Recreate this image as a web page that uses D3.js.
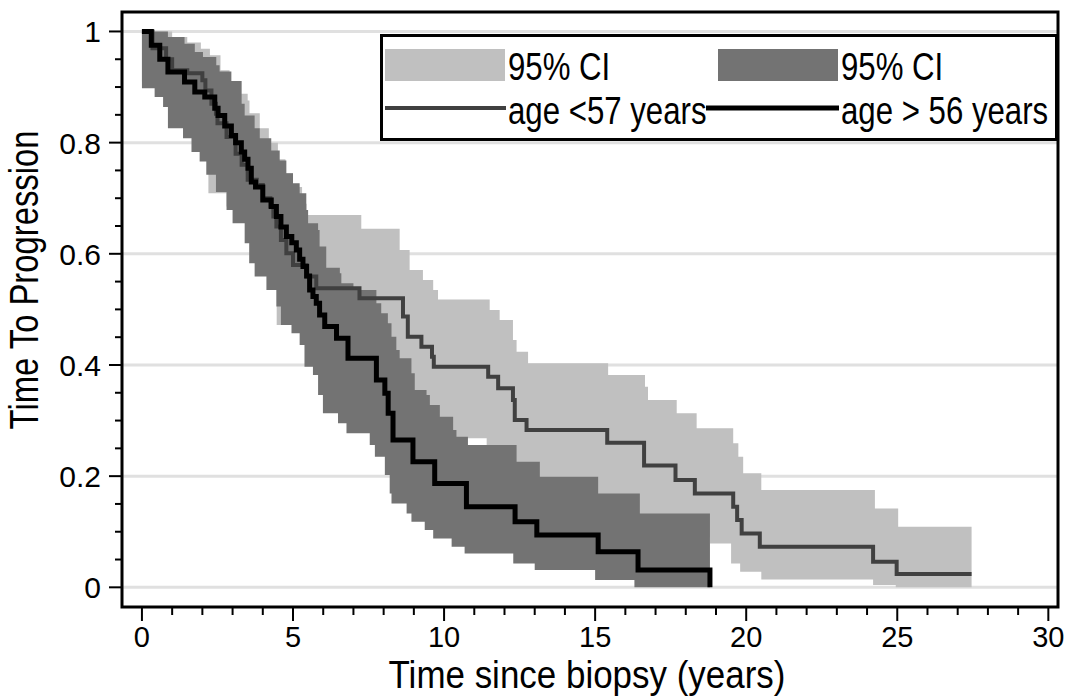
<!DOCTYPE html>
<html>
<head>
<meta charset="utf-8">
<script src="https://cdn.jsdelivr.net/npm/d3@7"></script>
<style>
  body {margin: 0; background: #fff;}
  svg {display: block; font-family: 'Liberation Sans', Arial, sans-serif;}
</style>
</head>
<body>
<svg id="chart" width="1071" height="696"></svg>
<script>
// step data: [time (years), value], value holds until the next time
const youngLine = [
  [0, 1], [0.35, 0.97], [0.8, 0.95], [1.0, 0.93], [1.5, 0.925], [2.0, 0.912], [2.1, 0.894],
  [2.3, 0.87], [2.45, 0.852], [2.5, 0.835], [2.8, 0.81], [3.1, 0.78], [3.3, 0.76], [3.5, 0.733],
  [3.8, 0.724], [4.0, 0.7], [4.25, 0.685], [4.35, 0.667], [4.45, 0.649], [4.6, 0.625],
  [4.78, 0.601], [5.0, 0.58], [5.45, 0.559], [5.77, 0.538], [7.2, 0.52], [8.64, 0.487],
  [8.8, 0.451], [9.25, 0.433], [9.6, 0.415], [9.66, 0.397], [11.46, 0.379], [11.79, 0.358],
  [12.28, 0.337], [12.34, 0.301], [12.73, 0.283], [15.4, 0.26], [16.62, 0.219], [17.66, 0.193],
  [18.3, 0.169], [19.57, 0.145], [19.7, 0.121], [19.85, 0.097], [20.45, 0.073], [24.2, 0.046],
  [24.98, 0.024], [27.46, 0.024],
];
const oldLine = [
  [0, 1], [0.31, 0.975], [0.59, 0.95], [0.86, 0.927], [1.41, 0.909], [1.75, 0.891], [2.08, 0.882],
  [2.41, 0.862], [2.52, 0.849], [2.74, 0.83], [2.96, 0.813], [3.1, 0.8], [3.29, 0.783], [3.4, 0.77],
  [3.51, 0.754], [3.62, 0.729], [3.76, 0.72], [4.0, 0.697], [4.28, 0.685], [4.45, 0.667],
  [4.6, 0.648], [4.78, 0.631], [4.96, 0.62], [5.11, 0.607], [5.22, 0.59], [5.33, 0.577],
  [5.45, 0.56], [5.55, 0.535], [5.66, 0.523], [5.77, 0.511], [5.88, 0.49], [6.05, 0.469],
  [6.44, 0.448], [6.82, 0.412], [7.76, 0.373], [8.04, 0.349], [8.15, 0.313], [8.31, 0.265],
  [8.97, 0.226], [9.69, 0.187], [10.74, 0.145], [12.35, 0.118], [13.07, 0.094], [15.1, 0.064],
  [16.42, 0.031], [18.8, 0],
];
const youngUpper = [
  [0, 1], [1.0, 0.99], [1.5, 0.98], [1.95, 0.969], [2.25, 0.957], [2.6, 0.93], [2.9, 0.91],
  [3.23, 0.888], [3.5, 0.876], [3.56, 0.853], [3.9, 0.826], [4.2, 0.8], [4.5, 0.77], [4.75, 0.745],
  [5.0, 0.72], [5.3, 0.69], [5.45, 0.67], [7.26, 0.645], [8.53, 0.607], [8.86, 0.571],
  [9.3, 0.553], [9.64, 0.535], [9.8, 0.518], [11.51, 0.499], [11.84, 0.481], [12.28, 0.445],
  [12.4, 0.424], [12.78, 0.403], [15.43, 0.382], [16.65, 0.361], [16.75, 0.337], [17.7, 0.313],
  [18.36, 0.286], [19.57, 0.259], [19.74, 0.235], [19.9, 0.205], [20.5, 0.175], [24.26, 0.142],
  [25.03, 0.109], [27.46, 0.109],
];
const youngLower = [
  [0, 0.91], [0.45, 0.895], [0.75, 0.875], [0.9, 0.84], [1.4, 0.815], [1.7, 0.79], [2.0, 0.77],
  [2.2, 0.709], [2.8, 0.685], [3.05, 0.66], [3.45, 0.625], [3.6, 0.59], [3.8, 0.565], [4.15, 0.54],
  [4.46, 0.472], [4.8, 0.48], [5.0, 0.46], [5.4, 0.44], [5.9, 0.42], [6.5, 0.4], [7.2, 0.37],
  [7.8, 0.34], [8.3, 0.32], [8.8, 0.3], [9.7, 0.268], [11.41, 0.24], [12.3, 0.2], [12.8, 0.17],
  [14, 0.14], [15.4, 0.12], [16.6, 0.1], [17.7, 0.09], [18.8, 0.079], [19.5, 0.043],
  [19.8, 0.028], [20.5, 0.014], [24.2, 0.004], [24.95, 0], [27.46, 0],
];
const oldUpper = [
  [0, 1], [0.86, 0.99], [1.41, 0.978], [1.75, 0.963], [2.02, 0.954], [2.46, 0.939], [2.57, 0.928],
  [2.96, 0.911], [3.3, 0.87], [3.4, 0.849], [3.73, 0.826], [3.9, 0.808], [4.28, 0.786],
  [4.56, 0.768], [4.78, 0.745], [5.0, 0.727], [5.22, 0.709], [5.44, 0.679], [5.5, 0.655],
  [5.83, 0.643], [5.88, 0.613], [6.1, 0.575], [6.55, 0.565], [6.6, 0.547], [7.0, 0.535],
  [7.76, 0.511], [7.92, 0.493], [8.14, 0.475], [8.26, 0.451], [8.42, 0.427], [8.53, 0.412],
  [8.92, 0.385], [9.03, 0.355], [9.42, 0.346], [9.53, 0.328], [9.86, 0.307], [10.3, 0.283],
  [10.41, 0.271], [10.79, 0.256], [12.4, 0.226], [13.17, 0.199], [15.1, 0.169], [16.48, 0.133],
  [18.8, 0.133],
];
const oldLower = [
  [0, 0.898], [0.42, 0.882], [0.7, 0.864], [0.86, 0.826], [1.36, 0.808], [1.64, 0.783],
  [1.91, 0.766], [2.13, 0.742], [2.45, 0.711], [2.8, 0.679], [3.0, 0.655], [3.4, 0.619],
  [3.55, 0.583], [3.73, 0.559], [4.12, 0.535], [4.45, 0.505], [4.6, 0.472], [4.95, 0.457],
  [5.22, 0.436], [5.38, 0.397], [5.66, 0.382], [5.83, 0.346], [5.99, 0.313], [6.49, 0.295],
  [6.77, 0.277], [7.54, 0.256], [7.71, 0.235], [8.04, 0.202], [8.2, 0.169], [8.26, 0.151],
  [8.76, 0.133], [8.92, 0.118], [9.36, 0.103], [9.64, 0.088], [10.25, 0.073], [10.68, 0.061],
  [12.29, 0.043], [13.0, 0.031], [15.0, 0.013], [16.3, 0], [18.8, 0],
];

const xTicks = [0, 5, 10, 15, 20, 25, 30];
const yTicks = [0, 0.2, 0.4, 0.6, 0.8, 1];
const legendItems = [
  {label: '95% CI', kind: 'band', color: '#c0c0c0'},
  {label: '95% CI', kind: 'band', color: '#737373'},
  {label: 'age <57 years', kind: 'line', color: '#404040', width: 4},
  {label: 'age > 56 years', kind: 'line', color: '#000', width: 5},
];

const svg = d3.select('#chart');
const plotL = 122; const plotR = 1058; const plotT = 12; const plotB = 607;

const x = d3.scaleLinear().domain([-0.66, 30.32]).range([plotL, plotR]);
const y = d3.scaleLinear().domain([-0.0354, 1.035]).range([plotB, plotT]);

// value of a step series at time t
const stepAt = (series, t)=>{
  let v = series[0][1];
  series.forEach((p)=>{
    if (p[0] <= t) v = p[1];
  });
  return v;
};

const bandData = (upper, lower)=>{
  const times = Array.from(new Set(upper.map((p)=>p[0]).concat(lower.map((p)=>p[0])))).sort((a, b)=>a-b);
  return times.map((t)=>({t: t, hi: stepAt(upper, t), lo: stepAt(lower, t)}));
};

// gridlines
svg.append('g').selectAll('line')
    .data(yTicks).enter().append('line')
    .attr('x1', plotL).attr('x2', plotR)
    .attr('y1', (d)=>y(d)).attr('y2', (d)=>y(d))
    .style('stroke', '#e0e0e0').style('stroke-width', 3);

const area = d3.area()
    .curve(d3.curveStepAfter)
    .x((d)=>x(d.t))
    .y0((d)=>y(d.lo))
    .y1((d)=>y(d.hi));

svg.append('path')
    .datum(bandData(youngUpper, youngLower))
    .attr('d', area)
    .style('fill', '#c0c0c0');

svg.append('path')
    .datum(bandData(oldUpper, oldLower))
    .attr('d', area)
    .style('fill', '#737373');

const line = d3.line()
    .curve(d3.curveStepAfter)
    .x((d)=>x(d[0]))
    .y((d)=>y(d[1]));

svg.append('path')
    .datum(youngLine)
    .attr('d', line)
    .style('fill', 'none').style('stroke', '#404040').style('stroke-width', 4);

svg.append('path')
    .datum(oldLine)
    .attr('d', line)
    .style('fill', 'none').style('stroke', '#000').style('stroke-width', 5);

// legend (condensed face faked with a horizontal squeeze)
const lg = svg.append('g');
lg.append('rect')
    .attr('x', 381.5).attr('y', 35.5).attr('width', 675).attr('height', 104)
    .style('fill', '#fff').style('stroke', '#000').style('stroke-width', 3);

const colX = [385, 718];
const rowY = [49, 93];
legendItems.forEach((it, i)=>{
  const cx = colX[i%2];
  const ry = rowY[Math.floor(i/2)];
  if (it.kind == 'band') {
    lg.append('rect')
        .attr('x', cx).attr('y', ry).attr('width', 120).attr('height', 32)
        .style('fill', it.color);
  } else {
    lg.append('line')
        .attr('x1', cx - (i%2 ? 12 : 0)).attr('x2', cx + 121)
        .attr('y1', ry + 15).attr('y2', ry + 15)
        .style('stroke', it.color).style('stroke-width', it.width);
  }
  lg.append('text')
      .attr('transform', `translate(${cx + 123},${ry + 31}) scale(0.8,1)`)
      .style('font-size', '39px')
      .text(it.label);
});

// axes
const xAxis = svg.append('g').attr('transform', `translate(0,${plotB})`);
xAxis.append('g').selectAll('line')
    .data(d3.range(0, 31)).enter().append('line')
    .attr('x1', (d)=>x(d)).attr('x2', (d)=>x(d))
    .attr('y1', 0).attr('y2', (d)=>(d%5 ? 8 : 14))
    .style('stroke', '#000').style('stroke-width', 2);
xAxis.selectAll('text')
    .data(xTicks).enter().append('text')
    .attr('x', (d)=>x(d)).attr('y', 40)
    .attr('text-anchor', 'middle')
    .style('font-size', '29px')
    .text((d)=>d);

const yAxis = svg.append('g').attr('transform', `translate(${plotL},0)`);
yAxis.append('g').selectAll('line')
    .data(d3.range(0, 21)).enter().append('line')
    .attr('x1', (d)=>(d%4 ? -7 : -13)).attr('x2', 0)
    .attr('y1', (d)=>y(d*0.05)).attr('y2', (d)=>y(d*0.05))
    .style('stroke', '#000').style('stroke-width', 2);
yAxis.selectAll('text')
    .data(yTicks).enter().append('text')
    .attr('x', -21).attr('y', (d)=>y(d)+11)
    .attr('text-anchor', 'end')
    .style('font-size', '30px')
    .text((d)=>d3.format('~g')(d));

// frame
svg.append('rect')
    .attr('x', plotL).attr('y', plotT).attr('width', plotR-plotL).attr('height', plotB-plotT)
    .style('fill', 'none').style('stroke', '#000').style('stroke-width', 3);

svg.append('text')
    .attr('transform', `translate(${(plotL+plotR)/2 - 3},688) scale(0.92,1)`)
    .attr('text-anchor', 'middle')
    .style('font-size', '38px')
    .text('Time since biopsy (years)');

svg.append('text')
    .attr('transform', `translate(38,280) rotate(-90) scale(0.82,1)`)
    .attr('text-anchor', 'middle')
    .style('font-size', '40px')
    .text('Time To Progression');
</script>
</body>
</html>
